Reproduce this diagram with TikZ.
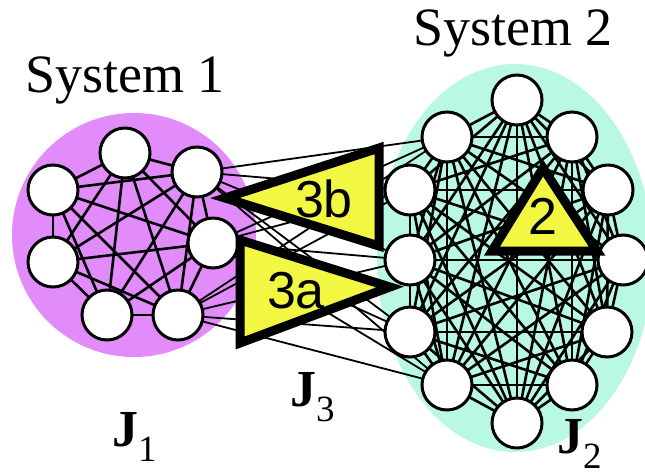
\documentclass[tikz,border=0pt]{standalone}
\usepackage{fontspec}
\setmainfont{Liberation Serif}
\newfontfamily\sansf{Liberation Sans}
\pgfdeclarelayer{bg}
\pgfdeclarelayer{edges}
\pgfdeclarelayer{fg}
\pgfsetlayers{bg,edges,main,fg}
\definecolor{pinkbg}{RGB}{225,140,250}
\definecolor{tealbg}{RGB}{185,248,228}
\definecolor{tri}{RGB}{242,248,66}
\tikzset{
  unit/.style={circle,draw=black,fill=white,line width=3pt,minimum size=50pt,inner sep=0pt},
  inedge/.style={line width=2.6pt},
  xedge/.style={line width=1.8pt},
  tribox/.style={draw=black,fill=tri,line width=9pt,line join=miter},
  trilabel/.style={font=\sansf\fontsize{52pt}{56pt}\selectfont,inner sep=0pt},
  syslabel/.style={font=\fontsize{54pt}{60pt}\selectfont,inner sep=0pt,anchor=base west},
  jlabel/.style={font=\fontsize{52pt}{56pt}\selectfont,inner sep=0pt,anchor=base west}
}
\begin{document}
\begin{tikzpicture}[x=1pt,y=-1pt]
\useasboundingbox (0,0) rectangle (645,475);
\begin{pgfonlayer}{bg}
  \fill[pinkbg] (134,235) circle (122);
  \fill[tealbg] (515,258) ellipse (138 and 194);
\end{pgfonlayer}
% System 1 nodes
\node[unit] (b1) at (125,153) {};
\node[unit] (b2) at (197,172) {};
\node[unit] (b3) at (53,190) {};
\node[unit] (b4) at (213,243) {};
\node[unit] (b5) at (53,262) {};
\node[unit] (b6) at (107,315) {};
\node[unit] (b7) at (178,315) {};
% System 2 nodes
\node[unit] (a1) at (517,100) {};
\node[unit] (a2) at (447,137) {};
\node[unit] (a3) at (572,137) {};
\node[unit] (a4) at (410,190) {};
\node[unit] (a5) at (608,190) {};
\node[unit] (a6) at (410,260) {};
\node[unit] (a7) at (623,260) {};
\node[unit] (a8) at (410,332) {};
\node[unit] (a9) at (607,332) {};
\node[unit] (a10) at (447,385) {};
\node[unit] (a11) at (572,385) {};
\node[unit] (a12) at (517,423) {};
\begin{pgfonlayer}{edges}
  \foreach \i in {1,...,6}{
    \pgfmathtruncatemacro\k{\i+1}
    \foreach \j in {\k,...,7}{
      \draw[inedge] (b\i.center) -- (b\j.center);
    }
  }
  \foreach \i in {1,...,11}{
    \pgfmathtruncatemacro\k{\i+1}
    \foreach \j in {\k,...,12}{
      \draw[inedge] (a\i.center) -- (a\j.center);
    }
  }
  \foreach \s in {2,4,7}{
    \foreach \t in {2,4,6,8,10}{
      \draw[xedge] (b\s.center) -- (a\t.center);
    }
  }
\end{pgfonlayer}
\begin{pgfonlayer}{fg}
  \draw[tribox] (225,198) -- (379,148) -- (379,246) -- cycle;
  \draw[tribox] (240,240) -- (390,287) -- (240,343) -- cycle;
  \draw[tribox] (543,168) -- (597,251) -- (492,251) -- cycle;
  \node[trilabel] (l3b) at (324,199) {3b};
  \node[trilabel] (l3a) at (296,291) {3a};
  \node[trilabel] (l2) at (543,216) {2};
  \node[syslabel] (s1) at (25,92) {System 1};
  \node[syslabel] (s2) at (413,45) {System 2};
  \node[jlabel] (j1) at (112,446) {\textbf{J}\lower15pt\hbox{\fontsize{37pt}{40pt}\selectfont 1}};
  \node[jlabel] (j3) at (290,406) {\textbf{J}\lower15pt\hbox{\fontsize{37pt}{40pt}\selectfont 3}};
  \node[jlabel] (j2) at (557,453) {\textbf{J}\lower15pt\hbox{\fontsize{37pt}{40pt}\selectfont 2}};
\end{pgfonlayer}
\end{tikzpicture}
\end{document}
